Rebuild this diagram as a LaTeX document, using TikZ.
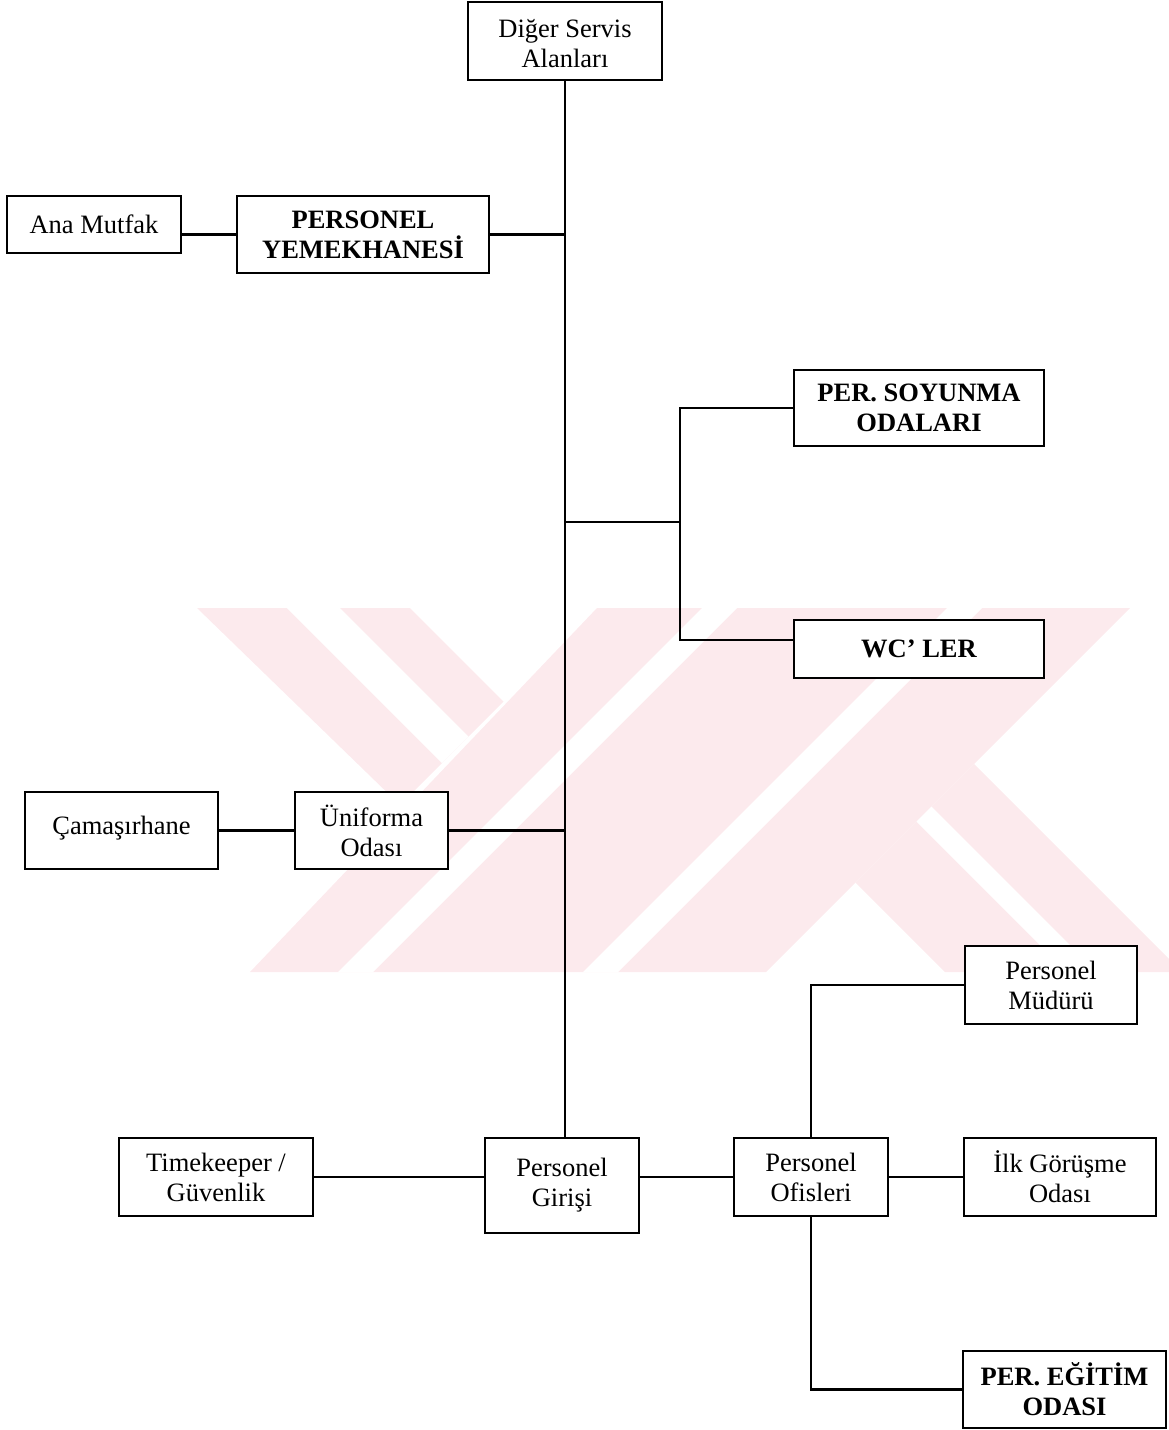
\documentclass[tikz,border=0pt]{standalone}
\usepackage{fontspec}
\setmainfont{Liberation Serif}
\definecolor{wmpink}{RGB}{252,234,237}
\begin{document}
\begin{tikzpicture}[x=1pt,y=-1pt,
  box/.style={draw=black, line width=2.4pt, fill=white, inner sep=0pt, align=center,
    font=\fontsize{26.5}{30}\selectfont},
  bbox/.style={box, font=\fontsize{26.5}{30}\selectfont\bfseries},
  link/.style={draw=black, line width=2.2pt}]
\useasboundingbox (0,0) rectangle (1169,1430);
% watermark
\begin{scope}
\clip (195,608) rectangle (1169,972);
\fill[wmpink] (597,608) -- (1130,608) -- (766,972) -- (250,972) -- cycle;
\fill[wmpink] (197,608) -- (410,608) -- (503.5,701.5) -- (400,805) -- cycle;
\fill[wmpink] (855.5,882.5) -- (974,764) -- (1182,972) -- (945,972) -- cycle;
\fill[white] (702,608) -- (737,608) -- (373,972) -- (338,972) -- cycle;
\fill[white] (947,608) -- (982,608) -- (618,972) -- (583,972) -- cycle;
\fill[white] (287,608) -- (340,608) -- (468.5,736.5) -- (442,763) -- cycle;
\fill[white] (916.5,821.5) -- (931.5,806.5) -- (1097,972) -- (1067,972) -- cycle;
\end{scope}
% nodes
\node[box, minimum width=194pt, minimum height=78pt] (dig) at (565,41) {\rule{0pt}{24pt}Diğer Servis\\Alanları};
\node[box, minimum width=174pt, minimum height=57pt] (ana) at (94,224.5) {Ana Mutfak};
\node[bbox, minimum width=252pt, minimum height=77pt] (yem) at (363,234.5) {PERSONEL\\YEMEKHANESİ};
\node[bbox, minimum width=250pt, minimum height=76pt] (soy) at (919,408) {PER. SOYUNMA\\ODALARI};
\node[bbox, minimum width=250pt, minimum height=58pt] (wc) at (919,649) {WC’ LER};
\node[box, minimum width=193pt, minimum height=77pt] (cam) at (121.5,830.5) {\raisebox{10pt}{Çamaşırhane}};
\node[box, minimum width=153pt, minimum height=77pt] (uni) at (371.5,830.5) {Üniforma\\Odası};
\node[box, minimum width=172pt, minimum height=78pt] (mud) at (1051,985) {Personel\\Müdürü};
\node[box, minimum width=194pt, minimum height=78pt] (tim) at (216,1177) {Timekeeper /\\Güvenlik};
\node[box, minimum width=154pt, minimum height=95pt] (gir) at (562,1185.5) {Personel\\Girişi};
\node[box, minimum width=154pt, minimum height=78pt] (ofi) at (811,1177) {Personel\\Ofisleri};
\node[box, minimum width=192pt, minimum height=78pt] (ilk) at (1060,1177) {İlk Görüşme\\Odası};
\node[bbox, minimum width=203pt, minimum height=77pt] (egi) at (1064.5,1389.5) {PER. EĞİTİM\\ODASI};
\coordinate (bx) at (680,522);
% connectors
\draw[link] (dig.south) -- (dig.south |- gir.north);
\draw[link] (yem.east) -- (yem.east -| dig.south);
\draw[link] (yem.west) -- (yem.west -| ana.east);
\draw[link] (bx) -- (bx -| dig.south);
\draw[link] (soy.west) -| (bx);
\draw[link] ([yshift=9pt]wc.west) -| (bx);
\draw[link] (uni.east) -- (uni.east -| dig.south);
\draw[link] (cam.east) -- (uni.west);
\draw[link] (tim.east) -- (tim.east -| gir.west);
\draw[link] (ofi.west -| gir.east) -- (ofi.west);
\draw[link] (ofi.east) -- (ilk.west);
\draw[link] (ofi.north) |- (mud.west);
\draw[link] (ofi.south) |- (egi.west);
\end{tikzpicture}
\end{document}
